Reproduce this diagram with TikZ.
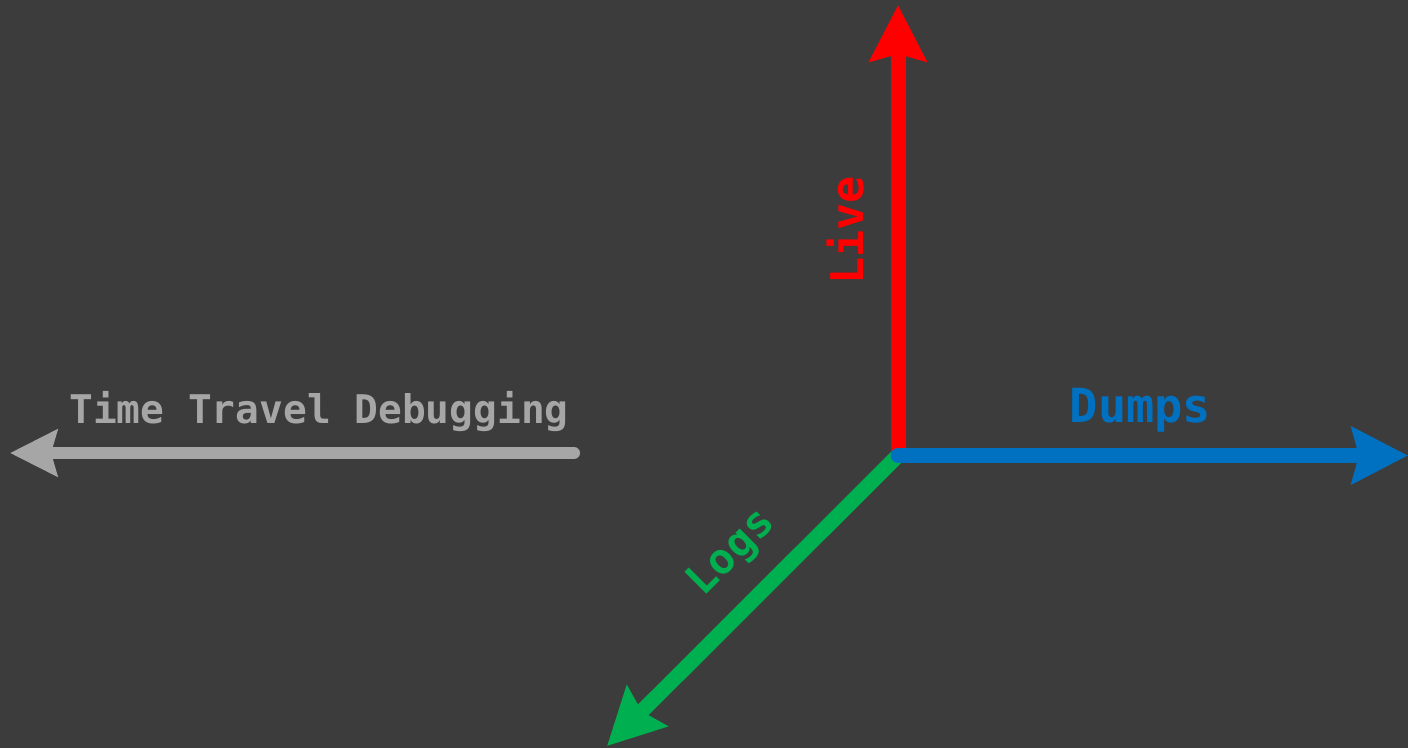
\documentclass[tikz,border=0pt]{standalone}
\usepackage{fontspec}
\setmonofont{DejaVu Sans Mono}
\usetikzlibrary{arrows.meta}
\definecolor{bg}{HTML}{3C3C3C}
\definecolor{livered}{HTML}{FF0000}
\definecolor{dumpblue}{HTML}{0070C0}
\definecolor{loggreen}{HTML}{00B050}
\definecolor{ttdgray}{HTML}{A6A6A6}
\begin{document}
\begin{tikzpicture}[x=1pt,y=-1pt,
  axis/.style={line width=15pt, -{Stealth[length=56pt,width=56pt,inset=7pt]}},
  lbl/.style={inner sep=0pt, anchor=base, font=\ttfamily\bfseries}]
\useasboundingbox (0,0) rectangle (1408,748);
\fill[bg] (0,0) rectangle (1408,748);
% coordinates
\coordinate (O) at (898,455.5);
\coordinate (liveTip) at (898,5);
\coordinate (dumpTip) at (1408,455.5);
\coordinate (logTip) at (607,746);
\coordinate (ttdStart) at (574,453);
\coordinate (ttdTip) at (10,453);
% arrows
\draw[axis, loggreen] (O) -- (logTip);
\draw[axis, livered] (O) -- (liveTip);
\draw[axis, dumpblue, line cap=round] (O) -- (dumpTip);
\draw[line width=12pt, ttdgray, line cap=round, -{Stealth[length=47pt,width=46pt,inset=6pt]}] (ttdStart) -- (ttdTip);
% labels
\node[lbl, text=ttdgray, font=\ttfamily\bfseries\fontsize{39.5}{40}\selectfont] (ttd) at (319,423) {Time Travel Debugging};
\node[lbl, text=dumpblue, font=\ttfamily\bfseries\fontsize{47}{48}\selectfont] (dumps) at (1140.5,422) {Dumps};
\node[lbl, text=livered, rotate=90, font=\ttfamily\bfseries\fontsize{45}{46}\selectfont] (live) at (863,230.5) {Live};
\node[lbl, text=loggreen, rotate=45, font=\ttfamily\bfseries\fontsize{42.5}{43}\selectfont] (logs) at (740,561) {Logs};
\end{tikzpicture}
\end{document}
